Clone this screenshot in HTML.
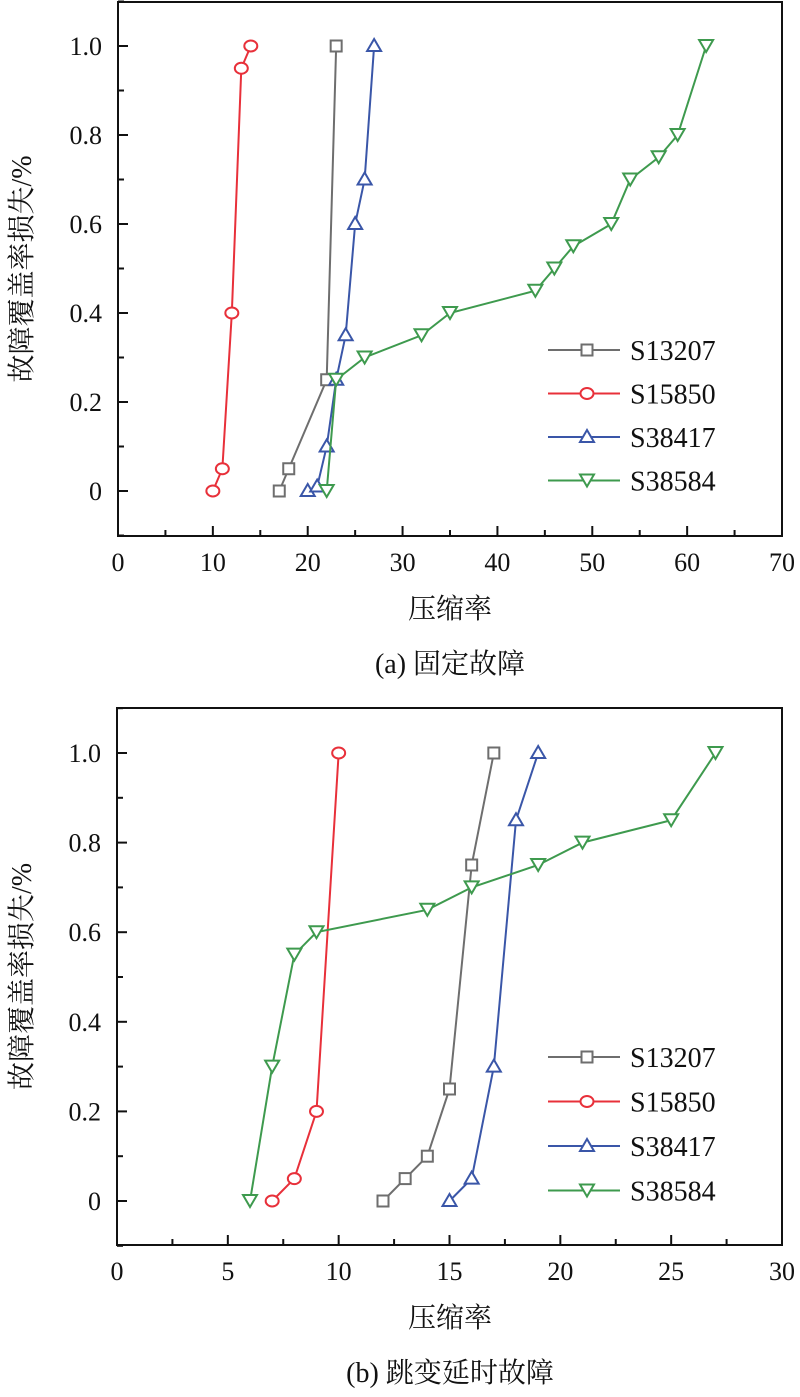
<!DOCTYPE html>
<html><head><meta charset="utf-8"><style>
body{margin:0;background:#fff}
svg text{font-family:"Liberation Serif","Noto Serif CJK SC",serif;fill:#111}
</style></head><body>
<svg id="c" width="800" height="1392" xmlns="http://www.w3.org/2000/svg"></svg>
<script>
const seriesNames=["S13207","S15850","S38417","S38584"];
const colors=["#6e6e6e","#e8303a","#3a56a8","#3e9a4e"];
const markers=["square","circle","up","down"];
const aX=[[17,18,22,23],[10,11,12,13,14],[20,21,22,23,24,25,26,27],[22,23,26,32,35,44,46,48,52,54,57,59,62]];
const aY=[[0,0.05,0.25,1.0],[0,0.05,0.4,0.95,1.0],[0,0.01,0.1,0.25,0.35,0.6,0.7,1.0],[0,0.25,0.3,0.35,0.4,0.45,0.5,0.55,0.6,0.7,0.75,0.8,1.0]];
const bX=[[12,13,14,15,16,17],[7,8,9,10],[15,16,17,18,19],[6,7,8,9,14,16,19,21,25,27]];
const bY=[[0,0.05,0.1,0.25,0.75,1.0],[0,0.05,0.2,1.0],[0,0.05,0.3,0.85,1.0],[0,0.3,0.55,0.6,0.65,0.7,0.75,0.8,0.85,1.0]];
const aXTicks=[0,10,20,30,40,50,60,70];
const bXTicks=[0,5,10,15,20,25,30];
const yTicks=[0,0.2,0.4,0.6,0.8,1.0];
const yTickLabels=["0","0.2","0.4","0.6","0.8","1.0"];
const svg=document.getElementById('c');
const NS="http://www.w3.org/2000/svg";
function mk(t,a,p){const e=document.createElementNS(NS,t);for(const k in a)e.setAttribute(k,a[k]);(p||svg).appendChild(e);return e;}
function marker(g,type,x,y,c){
 let e;
 if(type=="square")e=mk('rect',{x:x-5.5,y:y-5.5,width:11,height:11,fill:'#fff',stroke:c,'stroke-width':2},g);
 else if(type=="circle")e=mk('ellipse',{cx:x,cy:y,rx:6.5,ry:5.5,fill:'#fff',stroke:c,'stroke-width':2},g);
 else if(type=="up")e=mk('polygon',{points:`${x},${y-7} ${x-7},${y+5} ${x+7},${y+5}`,fill:'#fff',stroke:c,'stroke-width':2},g);
 else e=mk('polygon',{points:`${x},${y+6} ${x-7},${y-6} ${x+7},${y-6}`,fill:'#fff',stroke:c,'stroke-width':2},g);
 
 
}
function chart(o){
 const g=mk('g',{});
 
 
 const sx=v=>o.left+(v-o.xmin)/(o.xmax-o.xmin)*(o.right-o.left);
 const sy=v=>o.y0+(o.y1-o.y0)*v;
 const frame=mk('rect',{x:o.left,y:o.top,width:o.right-o.left,height:o.bottom-o.top,fill:'none',stroke:'#111','stroke-width':2},g);
 
 o.xt.forEach((v,i)=>{const x=sx(v);
  mk('line',{x1:x,y1:o.bottom,x2:x,y2:o.bottom-10,stroke:'#111','stroke-width':2},g);
  const t=mk('text',{x:x,y:o.bottom+35,'text-anchor':'middle','font-size':26},g);t.textContent=v;
  
  if(i<o.xt.length-1){const xm=sx((v+o.xt[i+1])/2);mk('line',{x1:xm,y1:o.bottom,x2:xm,y2:o.bottom-6,stroke:'#111','stroke-width':2},g);}
 });
 yTicks.forEach((v,i)=>{const y=sy(v);
  mk('line',{x1:o.left,y1:y,x2:o.left+10,y2:y,stroke:'#111','stroke-width':2},g);
  const t=mk('text',{x:o.left-16,y:y+9,'text-anchor':'end','font-size':26},g);t.textContent=yTickLabels[i];
  
  if(v<1.05){const ym=sy(v+0.1);mk('line',{x1:o.left,y1:ym,x2:o.left+6,y2:ym,stroke:'#111','stroke-width':2},g);}
 });
 const ym=sy(-0.1);mk('line',{x1:o.left,y1:ym,x2:o.left+6,y2:ym,stroke:'#111','stroke-width':2},g);
 seriesNames.forEach((n,s)=>{
  const sg=mk('g',{},g);
  
  
  const pts=o.X[s].map((x,i)=>sx(x)+','+sy(o.Y[s][i])).join(' ');
  mk('polyline',{points:pts,fill:'none',stroke:colors[s],'stroke-width':2},sg);
  o.X[s].forEach((x,i)=>marker(sg,markers[s],sx(x),sy(o.Y[s][i]),colors[s]));
 });
 const lg=mk('g',{},g);
 
 seriesNames.forEach((n,s)=>{const y=o.legY+s*o.legDy;
  const eg=mk('g',{},lg);
  
  mk('line',{x1:548,y1:y,x2:620,y2:y,stroke:colors[s],'stroke-width':2},eg);
  marker(eg,markers[s],587,y,colors[s]);
  const t=mk('text',{x:630,y:y+10,'font-size':28},eg);t.textContent=n;
 });
 const yt=mk('text',{x:0,y:0,'font-size':28,'text-anchor':'middle',transform:`translate(31,${(o.top+o.bottom)/2}) rotate(-90)`},g);
 yt.textContent="故障覆盖率损失/%";
 const xt=mk('text',{x:450,y:o.bottom+82,'font-size':28,'text-anchor':'middle'},g);
 xt.textContent="压缩率";
 const cp=mk('text',{x:450,y:o.bottom+137,'font-size':28,'text-anchor':'middle'},g);
 cp.textContent=o.caption;
}
chart({name:'chart-a',left:118,right:782,top:2,bottom:536,xmin:0,xmax:70,y0:491,y1:46,X:aX,Y:aY,xt:aXTicks,legY:350,legDy:43.5,caption:"(a) 固定故障"});
chart({name:'chart-b',left:117,right:782,top:708,bottom:1245,xmin:0,xmax:30,y0:1201,y1:753,X:bX,Y:bY,xt:bXTicks,legY:1057,legDy:44.5,caption:"(b) 跳变延时故障"});
</script>
</body></html>
